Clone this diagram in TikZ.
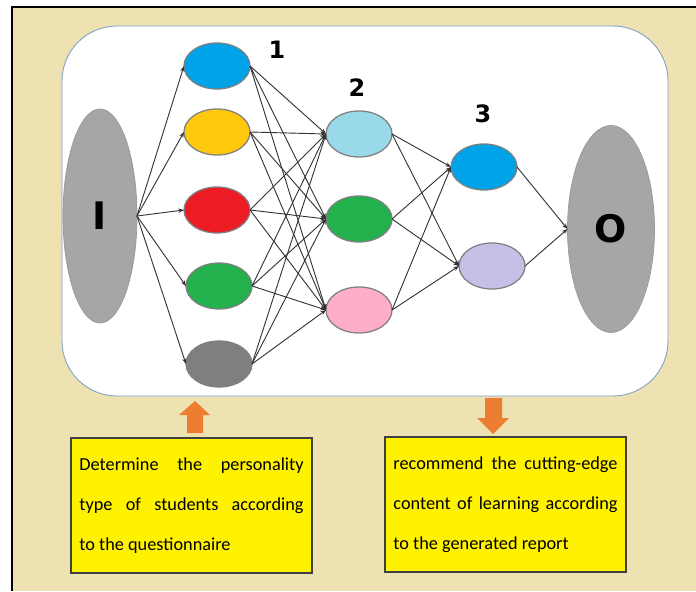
\documentclass[tikz,border=0pt]{standalone}
\usepackage{fontspec}
\setmainfont{Carlito}
\newfontfamily\markfont{DejaVu Sans}
\usepackage{xcolor}
\usetikzlibrary{arrows.meta, positioning, shapes.geometric}

\definecolor{paneltan}{RGB}{238,226,179}
\definecolor{boxedge}{RGB}{125,158,198}
\definecolor{termgray}{RGB}{166,166,166}
\definecolor{nBlue}{RGB}{0,162,232}
\definecolor{nYellow}{RGB}{255,201,14}
\definecolor{nRed}{RGB}{237,28,36}
\definecolor{nGreen}{RGB}{34,177,76}
\definecolor{nGray}{RGB}{127,127,127}
\definecolor{nSky}{RGB}{153,217,234}
\definecolor{nPink}{RGB}{255,174,201}
\definecolor{nLavender}{RGB}{200,191,231}
\definecolor{hintorange}{RGB}{237,125,49}

\begin{document}
\begin{tikzpicture}[
    x=0.025cm, y=-0.025cm,
    neuron/.style={
        ellipse,
        draw=black!50,
        line width=0.9pt,
        minimum width=1.65cm,
        minimum height=1.15cm,
        inner sep=0pt,
        outer sep=0pt
    },
    terminal/.style={
        ellipse,
        fill=termgray,
        draw=black!40,
        line width=0.5pt,
        inner sep=0pt,
        outer sep=0pt,
        font=\markfont\bfseries\fontsize{27}{27}\selectfont
    },
    link/.style={draw=black!80, line width=0.65pt, -{Stealth[length=4pt,width=3pt]}},
    layernum/.style={font=\markfont\bfseries\fontsize{17}{17}\selectfont},
    note/.style={
        rectangle,
        draw=black!75,
        line width=0.8pt,
        fill=yellow,
        minimum width=6.025cm,
        minimum height=3.375cm,
        text width=5.6cm,
        align=justify,
        font=\fontsize{13}{28.3}\selectfont
    },
    hint/.style={fill=hintorange}
]
    % Page and panel
    \useasboundingbox (0,0) rectangle (696,591);
    \fill[white] (0,0) rectangle (696,591);
    \fill[paneltan] (12,7) rectangle (696,591);
    \draw[black, line width=1.1pt] (12,591) -- (12,7) -- (696,7);
    \draw[boxedge, fill=white, line width=0.6pt, rounded corners=1.375cm] (62,26) rectangle (668,396);

    % Input and output
    \node[terminal, minimum width=1.85cm, minimum height=5.35cm] (in) at (100,216) {I};
    \node[terminal, minimum width=2.175cm, minimum height=5.175cm] (out) at (611,229) {O};

    % Layer 1
    \node[neuron, fill=nBlue] (a1) at (217,66) {};
    \node[neuron, fill=nYellow] (a2) at (217,132) {};
    \node[neuron, fill=nRed] (a3) at (217,210) {};
    \node[neuron, fill=nGreen] (a4) at (219,286) {};
    \node[neuron, fill=nGray] (a5) at (219,364) {};

    % Layer 2
    \node[neuron, fill=nSky] (b1) at (359,134) {};
    \node[neuron, fill=nGreen] (b2) at (359,219) {};
    \node[neuron, fill=nPink] (b3) at (359,310) {};

    % Layer 3
    \node[neuron, fill=nBlue] (c1) at (484,167) {};
    \node[neuron, fill=nLavender] (c2) at (492,266) {};

    % Layer numbers
    \node[layernum] (num1) at (277,50) {1};
    \node[layernum] (num2) at (357,88) {2};
    \node[layernum] (num3) at (483,114) {3};

    % Connections
    \path (in.east) edge[link] (a1.west) edge[link] (a2.west) edge[link] (a3.west) edge[link] (a4.west) edge[link] (a5.west);
    \path (a1.east) edge[link] (b1.west) edge[link] (b2.west) edge[link] (b3.west);
    \path (a2.east) edge[link] (b1.west) edge[link] (b2.west) edge[link] (b3.west);
    \path (a3.east) edge[link] (b1.west) edge[link] (b2.west) edge[link] (b3.west);
    \path (a4.east) edge[link] (b1.west) edge[link] (b2.west) edge[link] (b3.west);
    \path (a5.east) edge[link] (b1.west) edge[link] (b2.west) edge[link] (b3.west);
    \path (b1.east) edge[link] (c1.west) edge[link] (c2.west);
    \path (b2.east) edge[link] (c1.west) edge[link] (c2.west);
    \path (b3.east) edge[link] (c1.west) edge[link] (c2.west);
    \path (c1.east) edge[link] (out.west);
    \path (c2.east) edge[link] (out.west);

    % Notes
    \node[note] (leftnote) at (191.5,505.5) {Determine the personality\linebreak type of students according\linebreak to the questionnaire};
    \node[note] (rightnote) at (505.5,504.5) {recommend the cutting-edge\linebreak content of learning according\linebreak to the generated report};

    % Block arrows
    \fill[hint] (187,433) -- (187,415) -- (179,415) -- (195,401) -- (210,415) -- (203,415) -- (203,433) -- cycle;
    \fill[hint] (485,398) -- (502,398) -- (502,418) -- (509,418) -- (493,434) -- (477,418) -- (485,418) -- cycle;
\end{tikzpicture}
\end{document}
